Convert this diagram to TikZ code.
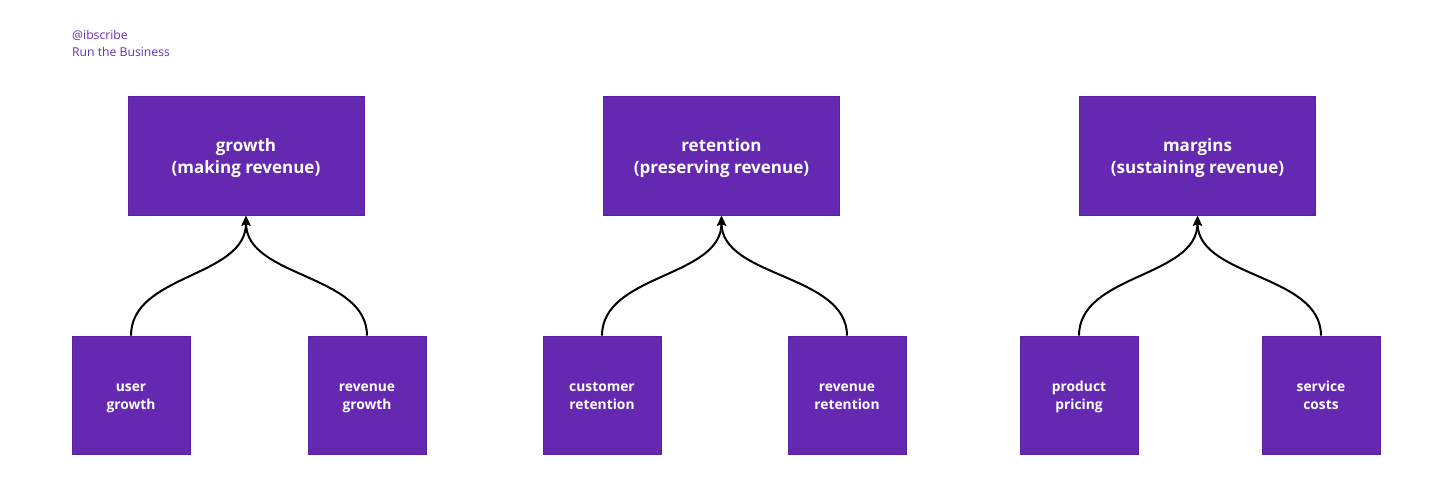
\documentclass[tikz,border=0pt]{standalone}
\usepackage{fontspec}
\setmainfont{Open Sans}
\usetikzlibrary{arrows.meta}
\definecolor{boxpurple}{HTML}{6429B0}
\definecolor{boxedge}{HTML}{5A22A2}
\definecolor{txtpurple}{HTML}{6A2DB5}
\newcommand\tstrut{\rule{0pt}{\dimexpr0.7\baselineskip+4pt\relax}}
\tikzset{
  topbox/.style={rectangle, fill=boxpurple, draw=boxedge, line width=0.6pt, inner sep=0pt,
    minimum width=236pt, minimum height=119pt, text=white, align=center,
    font=\fontsize{17}{22.5}\selectfont\bfseries},
  subbox/.style={rectangle, fill=boxpurple, draw=boxedge, line width=0.6pt, inner sep=0pt,
    minimum width=118pt, minimum height=118pt, text=white, align=center,
    font=\fontsize{13.8}{18}\selectfont\bfseries},
  link/.style={draw=black, line width=2pt, -{Stealth[length=10pt,width=9pt,inset=2pt]}},
  credit/.style={anchor=west, inner sep=0pt, text=txtpurple, font=\fontsize{12.2}{14}\selectfont}
}
\begin{document}
\begin{tikzpicture}[x=1pt,y=-1pt]
\useasboundingbox (0,0) rectangle (1456,495);
\node[credit] (c1) at (72,35) {@ibscribe};
\node[credit] (c2) at (72,52) {Run the Business};

\node[topbox] (g) at (246,156) {\tstrut growth\\\strut(making revenue)};
\node[subbox] (ug) at (131,395) {\tstrut user\\\strut growth};
\node[subbox] (rg) at (367,395) {\tstrut revenue\\\strut growth};

\node[topbox] (r) at (721.5,156) {\tstrut retention\\\strut(preserving revenue)};
\node[subbox] (cr) at (602,395) {\tstrut customer\\\strut retention};
\node[subbox] (rr) at (847,395) {\tstrut revenue\\\strut retention};

\node[topbox] (m) at (1197.5,156) {\tstrut margins\\\strut(sustaining revenue)};
\node[subbox] (pp) at (1079,395) {\tstrut product\\\strut pricing};
\node[subbox] (sc) at (1321,395) {\tstrut service\\\strut costs};

\foreach \s/\t in {ug/g, rg/g, cr/r, rr/r, pp/m, sc/m}{
  \draw[link] (\s.north) .. controls +(0,-62) and +(0,62) .. (\t.south);
}
\end{tikzpicture}
\end{document}
